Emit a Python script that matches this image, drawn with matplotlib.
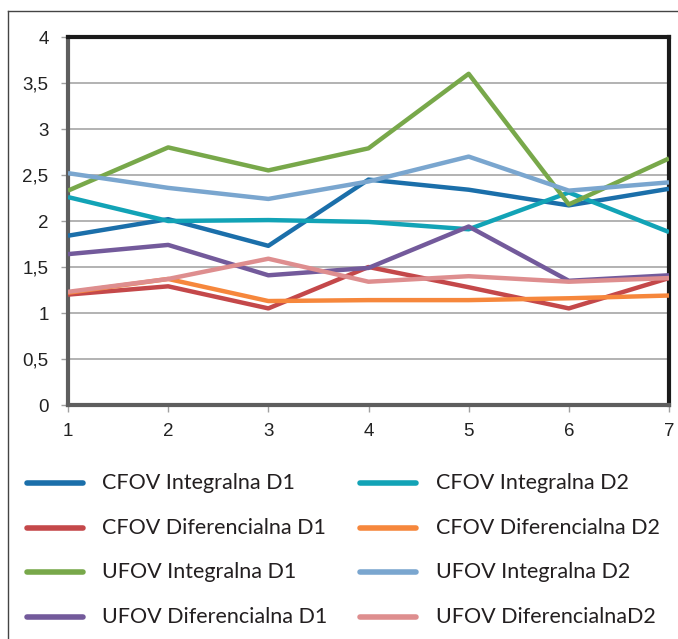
import matplotlib
matplotlib.use("Agg")
import matplotlib.pyplot as plt
from matplotlib.lines import Line2D

# données
x = [1, 2, 3, 4, 5, 6, 7]
cfov_int_d1 = [1.84, 2.02, 1.73, 2.45, 2.34, 2.17, 2.35]
cfov_int_d2 = [2.26, 2.00, 2.01, 1.99, 1.91, 2.31, 1.88]
cfov_dif_d1 = [1.20, 1.29, 1.05, 1.50, 1.28, 1.05, 1.38]
cfov_dif_d2 = [1.22, 1.37, 1.13, 1.14, 1.14, 1.16, 1.19]
ufov_int_d1 = [2.33, 2.80, 2.55, 2.79, 3.60, 2.18, 2.68]
ufov_int_d2 = [2.52, 2.36, 2.24, 2.43, 2.70, 2.33, 2.42]
ufov_dif_d1 = [1.64, 1.74, 1.41, 1.49, 1.94, 1.35, 1.41]
ufov_dif_d2 = [1.23, 1.37, 1.59, 1.34, 1.40, 1.34, 1.38]

labels = ["CFOV Integralna D1", "CFOV Integralna D2",
          "CFOV Diferencialna D1", "CFOV Diferencialna D2",
          "UFOV Integralna D1", "UFOV Integralna D2",
          "UFOV Diferencialna D1", "UFOV DiferencialnaD2"]
series = [cfov_int_d1, cfov_int_d2, cfov_dif_d1, cfov_dif_d2,
          ufov_int_d1, ufov_int_d2, ufov_dif_d1, ufov_dif_d2]
colors = ["#1B6FAA", "#12A3B6", "#C4484A", "#F6873C",
          "#78A84A", "#7AA6CF", "#735A9B", "#DE8E8F"]

yticks = [0, 0.5, 1, 1.5, 2, 2.5, 3, 3.5, 4]
ytick_labels = ["0", "0,5", "1", "1,5", "2", "2,5", "3", "3,5", "4"]

W, H = 678, 639
fig = plt.figure(figsize=(W / 100, H / 100), dpi=100)

# cadre extérieur
fig.add_artist(Line2D([8 / W, 8 / W], [0, 1 - 11 / H], color="#444444", lw=1, transform=fig.transFigure))
fig.add_artist(Line2D([8 / W, 1], [1 - 11 / H, 1 - 11 / H], color="#444444", lw=1, transform=fig.transFigure))

ax = fig.add_axes([68 / W, 1 - 405 / H, (669 - 68) / W, (405 - 37) / H])

for s, c in zip(series, colors):
    ax.plot(x, s, color=c, lw=3.2, solid_capstyle="butt", zorder=3)

ax.set_xlim(1, 7)
ax.set_ylim(0, 4)
ax.set_xticks(x)
ax.set_yticks(yticks)
ax.set_yticklabels(ytick_labels)
ax.yaxis.grid(True, color="#A6A6A6", lw=1.2)
ax.set_axisbelow(True)

for side in ["top", "right"]:
    ax.spines[side].set_color("#1a1a1a")
    ax.spines[side].set_linewidth(3)
for side in ["left", "bottom"]:
    ax.spines[side].set_color("#5E5E5E")
    ax.spines[side].set_linewidth(3)

ax.tick_params(axis="both", direction="out", length=5, width=1, color="#A0A0A0",
               labelsize=13.5, labelcolor="#222222")
ax.tick_params(axis="y", pad=9)
ax.tick_params(axis="x", pad=8)
for t in ax.get_xticklabels() + ax.get_yticklabels():
    t.set_fontfamily("Liberation Sans")

# légende faite à la main, deux colonnes
col_handle = [(27, 83), (360, 416)]
col_text = [102, 436]
rows_y = [483, 528, 572, 617]
for i, (lab, c) in enumerate(zip(labels, colors)):
    r = i // 2
    k = i % 2
    y = 1 - rows_y[r] / H
    x0, x1 = col_handle[k]
    fig.add_artist(Line2D([x0 / W, x1 / W], [y, y], color=c, lw=4, solid_capstyle="round",
                          transform=fig.transFigure))
    fig.text(col_text[k] / W, y, lab, fontsize=15.5, family="Lato", color="#231F20",
             va="center", ha="left")

fig.savefig("out.png", dpi=100)
